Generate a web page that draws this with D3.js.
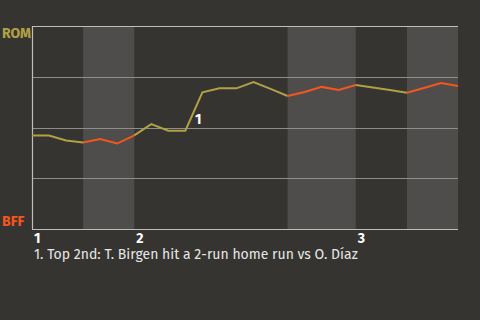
<!DOCTYPE html>
<meta charset="utf-8">
<style>
    body { margin: 0; background-color: #363430; }
    text { font-family: "Fira Sans", "Open Sans", "Noto Sans", sans-serif; }
    .team { font-size: 14px; font-weight: 700; }
    .tick-lbl { font-size: 14px; font-weight: 700; fill: #fff; }
    .note { font-size: 14px; fill: #e6e6e6; }
</style>
<body>
<script src="https://cdn.jsdelivr.net/npm/d3@7"></script>
<script>
    // ROM win probability (%) after each play
    var winProb = [46.1, 46.1, 43.6, 42.6, 44.3, 42.1, 46.1, 51.7, 48.4, 48.4, 67.3, 69.3, 69.3,
        72.4, 69.0, 65.5, 67.5, 70.0, 68.5, 70.9, 69.7, 68.5, 67.1, 69.5, 71.9, 70.4];
    // half innings: first play index, last play index, batting side
    var halfStart = [0, 3, 6, 15, 19, 22];
    var halfEnd = [3, 6, 15, 19, 22, 25];
    var halfSide = ["top", "bot", "top", "bot", "top", "bot"];
    var inningLabels = ["1", "2", "3"];
    var inningStart = [0, 6, 19];
    var gridVals = [0, 25, 50, 75, 100];
    var notePlay = 10;
    var notes = ["1. Top 2nd: T. Birgen hit a 2-run home run vs O. Díaz"];

    var W = 480, H = 320;
    var margin = {top: 26, right: 22, bottom: 91, left: 32};
    var olive = "#b1a045", orange = "#f5561d";

    var svg = d3.select("body").append("svg")
        .attr("width", W).attr("height", H);

    var x = d3.scaleLinear().domain([0, winProb.length - 1]).range([margin.left, W - margin.right]);
    var y = d3.scaleLinear().domain([0, 100]).range([H - margin.bottom, margin.top]);

    // shaded bottom halves
    svg.append("g").selectAll("rect")
        .data(d3.range(halfStart.length).filter(function(i) { return halfSide[i] === "bot"; }))
        .enter().append("rect")
        .attr("x", function(i) { return x(halfStart[i]); })
        .attr("y", y(100))
        .attr("width", function(i) { return x(halfEnd[i]) - x(halfStart[i]); })
        .attr("height", y(0) - y(100))
        .attr("fill", "#4f4d4b");

    // grid
    svg.append("g").selectAll("line")
        .data(gridVals)
        .enter().append("line")
        .attr("x1", x(0)).attr("x2", x(winProb.length - 1))
        .attr("y1", function(d) { return Math.round(y(d)) + 0.5; })
        .attr("y2", function(d) { return Math.round(y(d)) + 0.5; })
        .attr("stroke", function(d) { return d === 0 || d === 100 ? "#bdbdbd" : "#8f8d8a"; })
        .attr("stroke-width", 1.2);

    svg.append("line")
        .attr("x1", margin.left + 0.5).attr("x2", margin.left + 0.5)
        .attr("y1", y(100)).attr("y2", y(0))
        .attr("stroke", "#bdbdbd").attr("stroke-width", 1.2);

    // win probability line, one path per half inning
    var line = d3.line()
        .x(function(d) { return x(d); })
        .y(function(d) { return y(winProb[d]); });

    svg.append("g").selectAll("path")
        .data(d3.range(halfStart.length))
        .enter().append("path")
        .attr("d", function(i) { return line(d3.range(halfStart[i], halfEnd[i] + 1)); })
        .attr("fill", "none")
        .attr("stroke", function(i) { return halfSide[i] === "bot" ? orange : olive; })
        .attr("stroke-width", 2);

    // team labels
    svg.append("text").attr("class", "team")
        .attr("x", 2).attr("y", y(100) + 12)
        .attr("fill", olive).text("ROM");
    svg.append("text").attr("class", "team")
        .attr("x", 2).attr("y", y(0) - 3)
        .attr("fill", orange).text("BFF");

    // inning labels
    svg.append("g").selectAll("text")
        .data(inningLabels)
        .enter().append("text")
        .attr("class", "tick-lbl")
        .attr("x", function(d, i) { return x(inningStart[i]) + 2; })
        .attr("y", y(0) + 14)
        .text(function(d) { return d; });

    // annotation marker
    svg.append("text").attr("class", "tick-lbl")
        .attr("x", (x(notePlay - 1) + x(notePlay)) / 2 + 1)
        .attr("y", (y(winProb[notePlay - 1]) + y(winProb[notePlay])) / 2 + 12)
        .text("1");

    svg.append("g").selectAll("text")
        .data(notes)
        .enter().append("text")
        .attr("class", "note")
        .attr("x", margin.left + 2)
        .attr("y", y(0) + 30)
        .text(function(d) { return d; });
</script>
</body>
